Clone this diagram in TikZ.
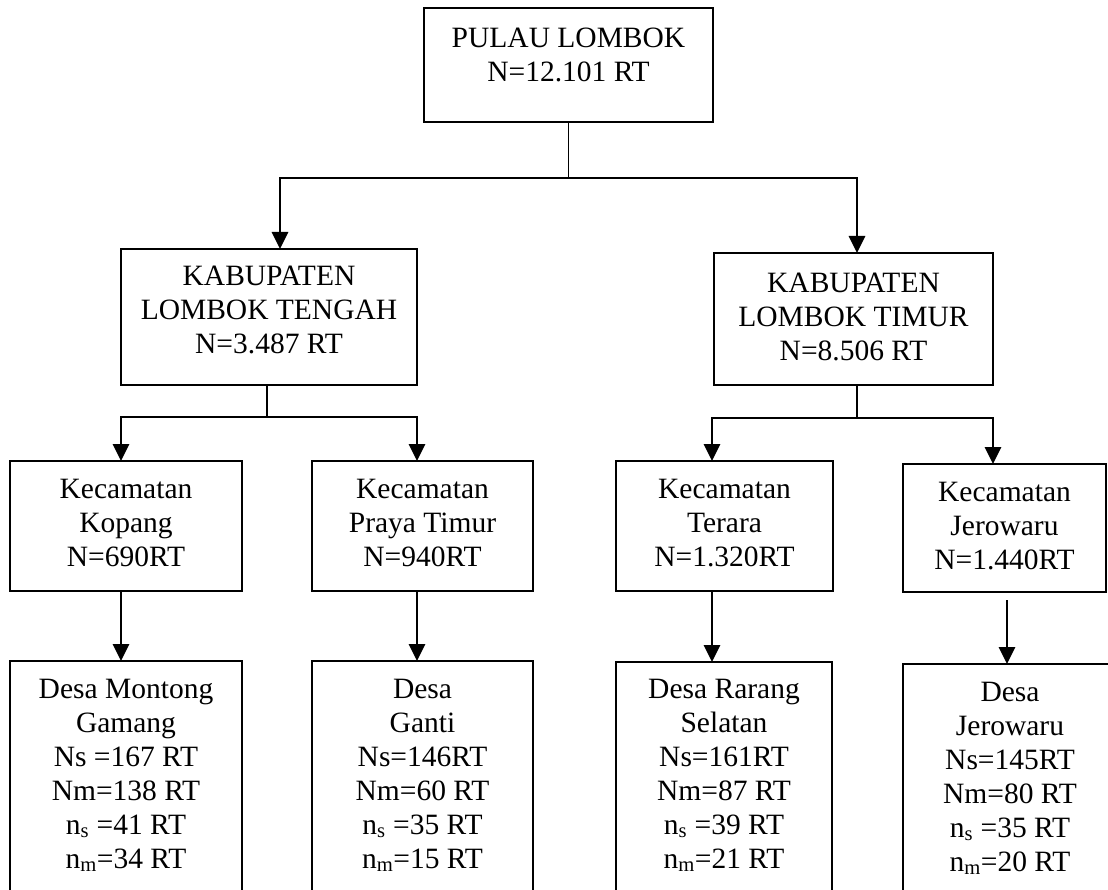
\documentclass[tikz,border=0pt]{standalone}
\usepackage{fontspec}
\setmainfont{Liberation Serif}
\usetikzlibrary{arrows.meta,calc}
\newcommand\fst{\rule{0pt}{22pt}}
\begin{document}
\begin{tikzpicture}[x=1pt,y=-1pt,
  box/.style={draw, line width=2pt, inner sep=0pt, outer sep=0pt},
  txt/.style={align=center, inner sep=0pt, anchor=north, font=\fontsize{29.5}{34}\selectfont},
  stem/.style={line width=1.9pt},
  arr/.style={line width=2.8pt, -{Triangle[length=17pt,width=16pt]}}]
\useasboundingbox (0,0) rectangle (1108,890);
\clip (0,0) rectangle (1108,890);
% boxes
\node[box, minimum width=289pt, minimum height=114pt] (top) at (568.5,65) {};
\node[box, minimum width=296pt, minimum height=136pt] (kabL) at (269,317) {};
\node[box, minimum width=279pt, minimum height=132pt] (kabR) at (853.5,319) {};
\node[box, minimum width=232pt, minimum height=130pt] (kecK) at (126,526) {};
\node[box, minimum width=221pt, minimum height=130pt] (kecP) at (422.5,526) {};
\node[box, minimum width=217pt, minimum height=130pt] (kecT) at (724.5,526) {};
\node[box, minimum width=203pt, minimum height=128pt] (kecJ) at (1004.5,528) {};
\node[box, minimum width=232pt, minimum height=244pt] (desaM) at (126,783) {};
\node[box, minimum width=221pt, minimum height=244pt] (desaG) at (422.5,783) {};
\node[box, minimum width=216pt, minimum height=243pt] (desaR) at (724,783.5) {};
\node[box, minimum width=214pt, minimum height=241pt] (desaJ) at (1010,784.5) {};
% texts
\node[txt] (topT) at (568.5,25) {\fst PULAU LOMBOK\\N=12.101 RT};
\node[txt] (kabLT) at (269,263) {\fst KABUPATEN\\LOMBOK TENGAH\\N=3.487 RT};
\node[txt] (kabRT) at (853.5,270) {\fst KABUPATEN\\LOMBOK TIMUR\\N=8.506 RT};
\node[txt] (kecKT) at (126,476) {\fst Kecamatan\\Kopang\\N=690RT};
\node[txt] (kecPT) at (422.5,476) {\fst Kecamatan\\Praya Timur\\N=940RT};
\node[txt] (kecTT) at (724.5,476) {\fst Kecamatan\\Terara\\N=1.320RT};
\node[txt] (kecJT) at (1004.5,479) {\fst Kecamatan\\Jerowaru\\N=1.440RT};
\node[txt] (desaMT) at (126,676) {\fst Desa Montong\\Gamang\\Ns =167 RT\\Nm=138 RT\\n\textsubscript{s} =41 RT\\n\textsubscript{m}=34 RT};
\node[txt] (desaGT) at (422.5,676) {\fst Desa\\Ganti\\Ns=146RT\\Nm=60 RT\\n\textsubscript{s} =35 RT\\n\textsubscript{m}=15 RT};
\node[txt] (desaRT) at (724,676) {\fst Desa Rarang\\Selatan\\Ns=161RT\\Nm=87 RT\\n\textsubscript{s} =39 RT\\n\textsubscript{m}=21 RT};
\node[txt] (desaJT) at (1010,679) {\fst Desa\\Jerowaru\\Ns=145RT\\Nm=80 RT\\n\textsubscript{s} =35 RT\\n\textsubscript{m}=20 RT};
% branch points
\coordinate (b0) at (568.5,178);
\coordinate (b1) at (267,417);
\coordinate (b2) at (857,418);
\coordinate (xK) at (121,0);
\coordinate (xP) at (417,0);
\coordinate (xT) at (712,0);
\coordinate (xJ) at (993,0);
\coordinate (xJd) at (1007,0);
\coordinate (xL) at (280,0);
\coordinate (xR) at (857,0);
% connectors
\draw[stem] (top.south) -- (b0);
\draw[arr] (b0) -| (kabL.north -| xL);
\draw[arr] (b0) -| (kabR.north -| xR);
\draw[stem] (kabL.south -| b1) -- (b1);
\draw[arr] (b1) -| (kecK.north -| xK);
\draw[arr] (b1) -| (kecP.north -| xP);
\draw[stem] (kabR.south -| b2) -- (b2);
\draw[arr] (b2) -| (kecT.north -| xT);
\draw[arr] (b2) -| (kecJ.north -| xJ);
\draw[arr] (kecK.south -| xK) -- (desaM.north -| xK);
\draw[arr] (kecP.south -| xP) -- (desaG.north -| xP);
\draw[arr] (kecT.south -| xT) -- (desaR.north -| xT);
\draw[arr] ($(kecJ.south -| xJd)+(0,8)$) -- (desaJ.north -| xJd);
\end{tikzpicture}
\end{document}
